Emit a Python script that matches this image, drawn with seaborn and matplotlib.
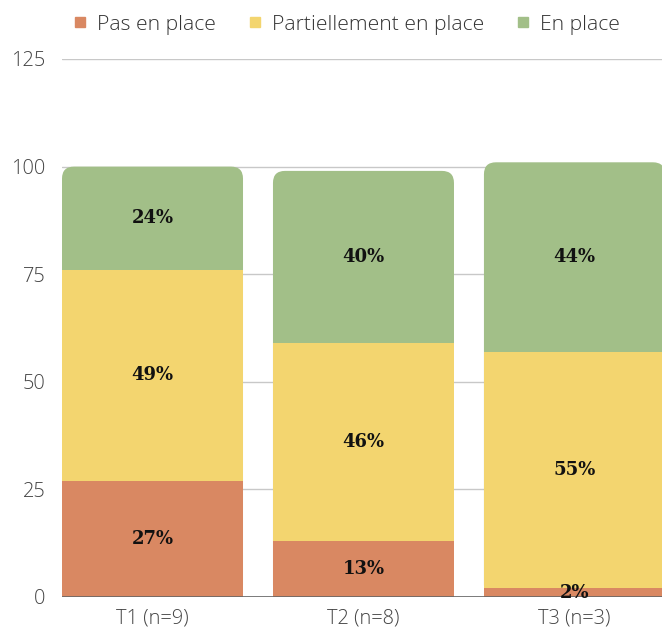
import matplotlib
matplotlib.use("Agg")
import matplotlib.pyplot as plt
from matplotlib.patches import FancyBboxPatch
from matplotlib.lines import Line2D
import seaborn as sns
import pandas as pd
import numpy as np

categories = ["T1 (n=9)", "T2 (n=8)", "T3 (n=3)"]
pas_en_place = [27, 13, 2]
partiellement = [49, 46, 55]
en_place = [24, 40, 44]
series_names = ["Pas en place", "Partiellement en place", "En place"]
colors = ["#D98862", "#F3D56F", "#A2BF88"]
y_ticks = [0, 25, 50, 75, 100, 125]

sns.set_theme(style="white")
plt.rcParams["font.family"] = ["Open Sans", "DejaVu Sans"]
plt.rcParams["font.weight"] = 300

W, H = 662, 631
fig = plt.figure(figsize=(W / 100, H / 100), dpi=100)
ax_left, ax_right = 62 / W, 1.0
ax_bottom, ax_top = 34 / H, (H - 59) / H
ax = fig.add_axes([ax_left, ax_bottom, ax_right - ax_left, ax_top - ax_bottom])

df = pd.DataFrame({
    "cat": categories,
    "pas": pas_en_place,
    "part": partiellement,
    "en": en_place,
})
df["c1"] = df["pas"]
df["c2"] = df["pas"] + df["part"]
df["c3"] = df["c2"] + df["en"]

bar_w = 0.858
xlim = (-0.429, 2.415)
# Tallest (cumulative) layer first, shorter layers drawn over it
sns.barplot(data=df, x="cat", y="c3", color=colors[2], width=bar_w,
            saturation=1, ax=ax, linewidth=0)
ax.set_xlim(*xlim)
ax.set_ylim(0, 125)

# Replace the top layer with rounded boxes (round corners in screen space)
fig.canvas.draw()
bbox = ax.get_window_extent()
px_per_x = bbox.width / (xlim[1] - xlim[0])
px_per_y = bbox.height / 125
aspect = px_per_x / px_per_y
radius_px = 12
top_patches = list(ax.patches)
for p in top_patches:
    x0, w, h = p.get_x(), p.get_width(), p.get_height()
    p.remove()
    fb = FancyBboxPatch((x0, 0), w, h,
                        boxstyle=f"round,pad=0,rounding_size={radius_px / px_per_x}",
                        mutation_aspect=aspect, facecolor=colors[2],
                        edgecolor="none", linewidth=0, zorder=2)
    ax.add_patch(fb)

sns.barplot(data=df, x="cat", y="c2", color=colors[1], width=bar_w,
            saturation=1, ax=ax, linewidth=0, zorder=3)
sns.barplot(data=df, x="cat", y="c1", color=colors[0], width=bar_w,
            saturation=1, ax=ax, linewidth=0, zorder=4)
ax.set_xlim(*xlim)
ax.set_ylim(0, 125)

# Segment value labels
for i in range(len(categories)):
    segs = [pas_en_place[i], partiellement[i], en_place[i]]
    base = 0
    for v in segs:
        ax.text(i, base + v / 2, f"{v}%", ha="center", va="center",
                fontsize=13, fontweight="bold", family="DejaVu Serif",
                color="#111111", zorder=6)
        base += v

ax.set_yticks(y_ticks)
ax.set_yticklabels([str(t) for t in y_ticks])
ax.yaxis.grid(True, color="#C8C8C8", linewidth=1)
ax.set_axisbelow(True)
ax.axhline(0, color="#666666", linewidth=1.2, zorder=5)
for s in ax.spines.values():
    s.set_visible(False)
ax.tick_params(axis="both", length=0, labelsize=14.4, colors="#444444")
ax.tick_params(axis="y", pad=12)
ax.tick_params(axis="x", pad=8)
ax.set_xlabel("")
ax.set_ylabel("")

handles = [Line2D([0], [0], marker="s", linestyle="", markersize=7,
                  markerfacecolor=c, markeredgecolor=c) for c in colors]
fig.legend(handles, series_names, loc="center", bbox_to_anchor=(0.522, 0.961),
           ncol=3, frameon=False, fontsize=15.2, handletextpad=0.4,
           handlelength=0.8, columnspacing=1.46, labelcolor="#333333")

fig.savefig("out.png", dpi=100)
